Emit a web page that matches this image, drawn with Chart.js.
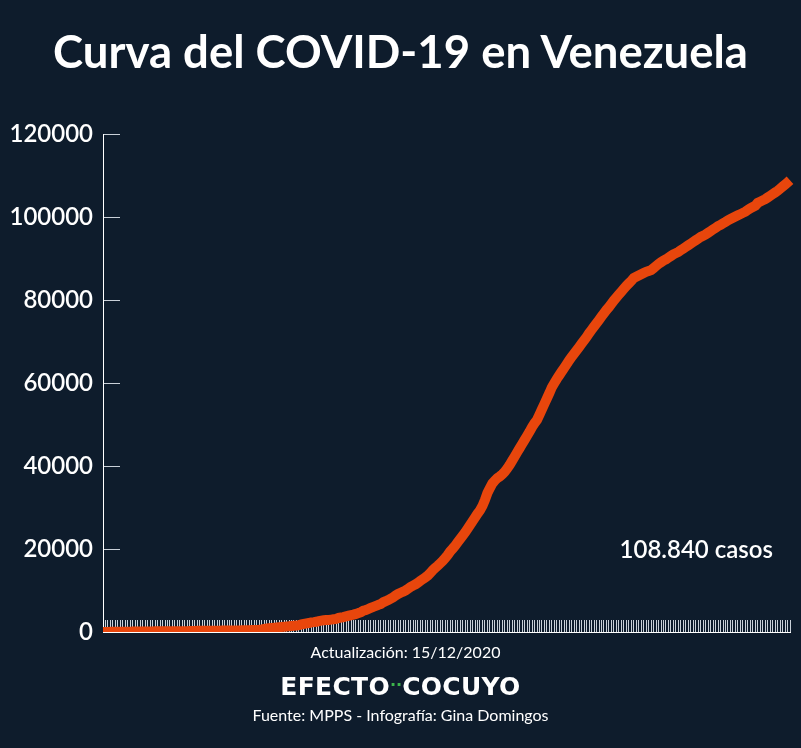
<!DOCTYPE html>
<html>
<head>
<meta charset="utf-8">
<script src="https://cdn.jsdelivr.net/npm/chart.js@4.4.1/dist/chart.umd.min.js"></script>
<style>
  body { margin: 0; background: #0e1c2c; }
  #wrap { position: relative; width: 801px; height: 748px; background: #0e1c2c; overflow: hidden; }
  #c { position: absolute; left: 0; top: 0; }
  .txt { position: absolute; left: 0; width: 801px; text-align: center; color: #fff; line-height: 1; white-space: nowrap; }
  .title { top: 23px; font: 700 45.5px Lato, sans-serif; }
  .upd { top: 642px; font: 400 16px Lato, sans-serif; left: 5px; }
  .brand { top: 672px; font: 700 25px "DejaVu Sans", sans-serif; letter-spacing: 0.3px; }
  .brand span { color: #3cb44b; font-size: 16px; letter-spacing: 0px; position: relative; top: -5px; }
  .src { top: 705px; font: 400 16px Lato, sans-serif; }
</style>
</head>
<body>
<div id="wrap">
  <canvas id="c" width="801" height="748"></canvas>
  <div class="txt title">Curva del COVID-19 en Venezuela</div>
  <div class="txt upd">Actualización: 15/12/2020</div>
  <div class="txt brand">EFECTO<span>··</span>COCUYO</div>
  <div class="txt src">Fuente: MPPS - Infografía: Gina Domingos</div>
</div>
<script>
// casos acumulados por día, 13/03/2020 - 15/12/2020
const marzo = [2, 10, 17, 33, 33, 36, 42, 42, 70, 77, 77, 84, 91, 106, 107, 113, 119, 135, 135];
const abril = [143, 146, 153, 155, 159, 165, 166, 167, 171, 175, 181, 189, 193, 197, 197,
  204, 227, 227, 256, 285, 288, 298, 311, 318, 323, 325, 329, 329, 331, 333];
const mayo = [345, 357, 361, 367, 379, 381, 388, 402, 414, 422, 440, 455, 459, 504, 541,
  618, 749, 824, 882, 944, 1010, 1121, 1177, 1211, 1245, 1325, 1370, 1459, 1510, 1552, 1662];
const junio = [1819, 1952, 2087, 2145, 2316, 2377, 2473, 2632, 2738, 2814, 2879, 2904, 2978, 3062, 3150,
  3386, 3483, 3591, 3789, 3917, 4048, 4187, 4366, 4563, 4779, 5130, 5297, 5530, 5832, 6062];
const julio = [6273, 6537, 6750, 7169, 7411, 7693, 8010, 8372, 8803, 9178, 9465, 9707, 10010, 10428, 10854,
  11191, 11483, 11891, 12334, 12774, 13164, 13613, 14263, 14929, 15463, 15988, 16571, 17158, 17859, 18574, 19443];
const agosto = [20100, 20800, 21600, 22400, 23200, 24000, 24900, 25800, 26700, 27600, 28500, 29300, 30400, 31800, 33500,
  34700, 35800, 36500, 37100, 37500, 38000, 38600, 39400, 40300, 41300, 42300, 43300, 44300, 45300, 46300, 47300];
const septiembre = [48300, 49400, 50300, 51100, 52400, 53700, 55000, 56300, 57600, 59000, 60000, 61000, 61900, 62800, 63700,
  64600, 65500, 66300, 67100, 67900, 68700, 69500, 70300, 71100, 72000, 72800, 73600, 74400, 75200, 76000];
const octubre = [76800, 77600, 78300, 79100, 79900, 80600, 81300, 82000, 82700, 83400, 84000, 84600, 85300, 85600, 85900,
  86200, 86500, 86800, 87000, 87200, 87700, 88200, 88700, 89100, 89500, 89800, 90200, 90600, 91000, 91300, 91600];
const noviembre = [92000, 92400, 92800, 93200, 93600, 94000, 94400, 94800, 95200, 95500, 95800, 96200, 96600, 97000, 97400,
  97800, 98100, 98500, 98800, 99200, 99500, 99800, 100100, 100400, 100700, 101000, 101300, 101700, 102100, 102400];
const diciembre = [102700, 103400, 103700, 104000, 104300, 104700, 105100, 105500, 105900, 106300, 106800, 107300, 107800, 108300, 108840];

const casos = [].concat(marzo, abril, mayo, junio, julio, agosto, septiembre, octubre, noviembre, diciembre);
const yTicks = [0, 20000, 40000, 60000, 80000, 100000, 120000];
const totalLabel = "108.840 casos";

// fechas del eje x, una por día
const fechas = [];
const inicio = new Date(2020, 2, 13);
for (let i = 0; i < casos.length; i++) {
  const d = new Date(inicio.getTime());
  d.setDate(inicio.getDate() + i);
  fechas.push(d.getDate() + "/" + (d.getMonth() + 1));
}

const totalText = {
  id: "totalText",
  afterDraw(chart) {
    const ctx = chart.ctx;
    const y = chart.scales.y.getPixelForValue(20000);
    ctx.save();
    ctx.fillStyle = "#ffffff";
    ctx.font = "600 24px Lato, sans-serif";
    ctx.textAlign = "right";
    ctx.textBaseline = "middle";
    ctx.fillText(totalLabel, chart.chartArea.right - 17, y + 1);
    ctx.restore();
  }
};

const ctx = document.getElementById("c").getContext("2d");
new Chart(ctx, {
  type: "line",
  data: {
    labels: fechas,
    datasets: [{
      label: "Casos",
      data: casos,
      borderColor: "#e8460c",
      borderWidth: 10,
      pointRadius: 0,
      tension: 0,
      fill: false,
    }],
  },
  options: {
    responsive: false,
    animation: false,
    devicePixelRatio: 1,
    layout: { padding: { top: 134, bottom: 116, left: 0, right: 11 } },
    plugins: { legend: { display: false }, tooltip: { enabled: false }, title: { display: false } },
    scales: {
      x: {
        offset: false,
        border: { display: true, color: "#ffffff", width: 1 },
        grid: { drawOnChartArea: false, drawTicks: true, tickLength: -12, color: "#c9d0d8", lineWidth: 1 },
        ticks: { display: false, autoSkip: false },
        afterFit(scale) { scale.height = 0; },
      },
      y: {
        min: 0,
        max: 120000,
        afterBuildTicks(scale) { scale.ticks = yTicks.map(v => ({ value: v })); },
        border: { display: true, color: "#ffffff", width: 1 },
        grid: { drawOnChartArea: false, drawTicks: true, tickLength: -17, color: "#c9d0d8", lineWidth: 1 },
        ticks: {
          color: "#ffffff",
          font: { family: "Lato", size: 24, weight: "600" },
          padding: 27,
          callback: (v) => String(v),
        },
        afterFit(scale) { scale.width = 103; },
      },
    },
  },
  plugins: [totalText],
});
</script>
</body>
</html>
